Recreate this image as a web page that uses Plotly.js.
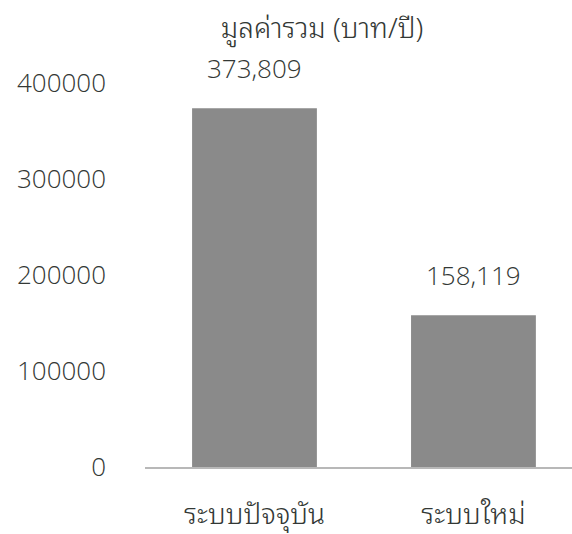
<!DOCTYPE html>
<html>
<head>
<meta charset="utf-8">
<script src="https://cdn.plot.ly/plotly-3.0.1.min.js"></script>
<style>
  html, body { margin: 0; padding: 0; background: #ffffff; }
  #chart { width: 572px; height: 534px; }
</style>
</head>
<body>
<div id="chart"></div>
<script>
// Annual total value per system (baht/year)
const systems = ['ระบบปัจจุบัน', 'ระบบใหม่'];
const totals = [373809, 158119];
const yTicks = [0, 100000, 200000, 300000, 400000];

const textColor = '#333835';
const numFont = '"Open Sans", "Noto Sans", sans-serif';
const thaiFont = '"Noto Sans Thai Looped", "Loma", "Garuda", "Noto Sans", "Noto Sans Thai", sans-serif';

const bars = {
  type: 'bar',
  x: systems,
  y: totals,
  marker: { color: '#8a8a8a', line: { width: 0 } },
  hoverinfo: 'none'
};

// value labels sit a fixed distance above each bar top
const valueLabels = systems.map((s, i) => ({
  x: s,
  y: totals[i],
  xref: 'x',
  yref: 'y',
  text: totals[i].toLocaleString('en-US'),
  showarrow: false,
  yanchor: 'middle',
  yshift: 40,
  font: { family: numFont, size: 26, weight: 300, color: textColor }
}));

const layout = {
  width: 572,
  height: 534,
  margin: { l: 145, r: 0, t: 60, b: 67, pad: 0 },
  paper_bgcolor: '#ffffff',
  plot_bgcolor: '#ffffff',
  showlegend: false,
  bargap: 0.43,
  title: {
    text: 'มูลค่ารวม (บาท/ปี)',
    xref: 'container',
    yref: 'container',
    x: 0.563,
    xanchor: 'center',
    y: 0.948,
    yanchor: 'middle',
    font: { family: thaiFont, size: 28, weight: 300, color: textColor }
  },
  xaxis: {
    type: 'category',
    range: [-0.5, 1.45],
    showgrid: false,
    zeroline: false,
    showline: true,
    linecolor: '#b8b8b8',
    linewidth: 1.5,
    ticks: '',
    ticklabelstandoff: 22,
    tickfont: { family: thaiFont, size: 28, weight: 300, color: textColor }
  },
  yaxis: {
    range: [0, 424000],
    tickvals: yTicks,
    ticktext: yTicks.map(String),
    showgrid: false,
    zeroline: false,
    showline: false,
    ticks: '',
    ticklabelstandoff: 38,
    tickfont: { family: numFont, size: 26, weight: 300, color: textColor }
  },
  annotations: valueLabels
};

Plotly.newPlot('chart', [bars], layout, { staticPlot: true, displayModeBar: false });
</script>
</body>
</html>
